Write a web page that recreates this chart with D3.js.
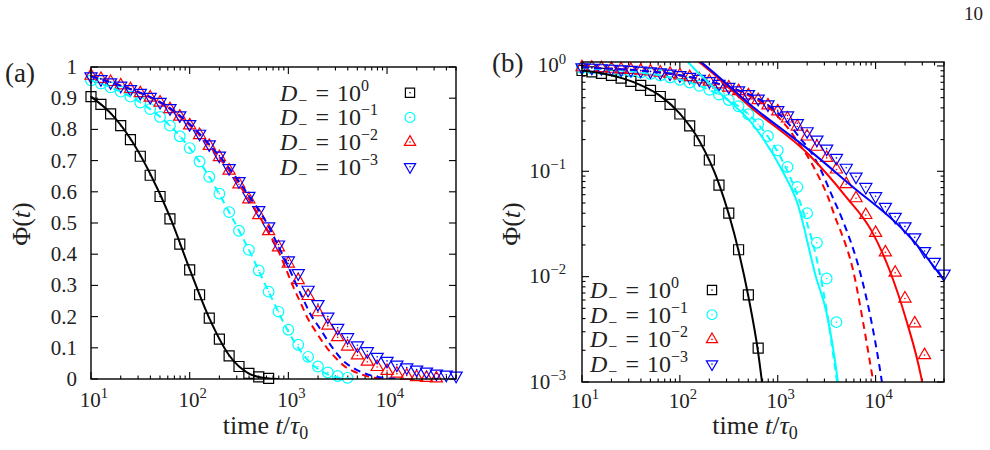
<!DOCTYPE html>
<html>
<head>
<meta charset="utf-8">
<script src="https://cdn.jsdelivr.net/npm/d3@7"></script>
<style>
body { margin: 0; background: #fff; }
</style>
</head>
<body>
<div id="graphicContainer"></div>
<script>
// simulation sampling times (t / tau0)
var times = [10, 12.6, 15.8, 20.0, 25.1, 31.6, 39.8, 50.1, 63.1, 79.4,
	100, 126, 158, 200, 251, 316, 398, 501, 631, 794,
	1000, 1259, 1585, 1995, 2512, 3162, 3981, 5012, 6310, 7943,
	10000, 12589, 15849, 19953, 25119, 31623, 39811, 50119];

var phiD1 = [0.905, 0.88, 0.85, 0.812, 0.767, 0.714, 0.653, 0.585, 0.513, 0.432,
	0.35, 0.27, 0.195, 0.128, 0.074, 0.04, 0.018, 0.0067, 0.0021];
var phiD01 = [0.957, 0.947, 0.935, 0.921, 0.905, 0.886, 0.865, 0.84, 0.812, 0.778,
	0.74, 0.697, 0.648, 0.594, 0.535, 0.475, 0.414, 0.348, 0.28, 0.216,
	0.158, 0.11, 0.071, 0.040, 0.021, 0.0096, 0.0037];
var phiD001 = [0.972, 0.962, 0.952, 0.941, 0.929, 0.916, 0.902, 0.886, 0.865, 0.841,
	0.813, 0.782, 0.747, 0.711, 0.668, 0.624, 0.576, 0.525, 0.474, 0.422,
	0.37, 0.317, 0.266, 0.214, 0.171, 0.134, 0.104, 0.0755, 0.0555, 0.0385,
	0.026, 0.017, 0.0109, 0.0062, 0.0036, 0.0018];
var phiD0001 = [0.970, 0.961, 0.951, 0.940, 0.929, 0.917, 0.904, 0.888, 0.868, 0.845,
	0.817, 0.786, 0.752, 0.716, 0.676, 0.634, 0.587, 0.541, 0.489, 0.431,
	0.38, 0.339, 0.286, 0.24, 0.2, 0.164, 0.134, 0.108, 0.089, 0.071,
	0.058, 0.046, 0.037, 0.030, 0.0236, 0.0175, 0.0138, 0.0107];

// fitted curves (t, Phi)
var fitBlackT = [10, 15.8, 25.1, 39.8, 63.1, 100, 158, 251, 398, 501, 631, 700, 800];
var fitBlackPhi = [0.905, 0.852, 0.77, 0.658, 0.52, 0.352, 0.195, 0.076, 0.0175, 0.0065, 0.0019, 0.0009, 0.0003];

var cyanDashT = [10, 15.8, 25.1, 39.8, 63.1, 100, 158, 251, 398, 631, 1000, 1259, 1585, 1995, 2512, 3162, 3981, 4500];
var cyanDashPhi = [0.957, 0.935, 0.905, 0.865, 0.812, 0.74, 0.648, 0.535, 0.414, 0.28, 0.152, 0.100, 0.060, 0.032, 0.0145, 0.0048, 0.0011, 0.0005];

var redDashT = [10, 15.8, 25.1, 39.8, 63.1, 100, 158, 251, 398, 631, 794, 912, 1122, 1349, 1549, 1905, 2455, 3236, 3981, 4467, 5888, 7413, 9036, 10000];
var redDashPhi = [0.972, 0.952, 0.929, 0.902, 0.865, 0.813, 0.747, 0.668, 0.576, 0.47, 0.41, 0.365, 0.295, 0.24, 0.198, 0.151, 0.10, 0.058, 0.034, 0.026, 0.0115, 0.0038, 0.0013, 0.00075];

var blueDashT = [10, 15.8, 25.1, 39.8, 63.1, 100, 158, 251, 398, 631, 794, 1000, 1175, 1429, 1660, 2089, 2692, 3548, 4624, 6855, 9036, 10965, 12303];
var blueDashPhi = [0.970, 0.951, 0.929, 0.904, 0.868, 0.817, 0.752, 0.676, 0.587, 0.489, 0.425, 0.36, 0.31, 0.253, 0.21, 0.162, 0.108, 0.06, 0.034, 0.0115, 0.0038, 0.0014, 0.0007];

// long-time asymptotes, only shown on the log panel
var cyanSolidT = [100, 120, 251, 562, 1122, 1585, 2455, 3162, 4120, 4500];
var cyanSolidPhi = [1.35, 1.1, 0.562, 0.275, 0.1, 0.05, 0.01, 0.0045, 0.001, 0.0005];
var redSolidT = [120, 155, 555, 2109, 5012, 9036, 13900, 20606, 29309, 33000];
var redSolidPhi = [1.3, 1.1, 0.39, 0.142, 0.057, 0.0275, 0.0115, 0.00385, 0.0011, 0.0006];
var blueSolidT = [120, 162, 555, 2109, 5861, 17620, 23174, 46990, 52000];
var blueSolidPhi = [1.35, 1.1, 0.41, 0.158, 0.071, 0.03, 0.023, 0.01, 0.0088];

var legendExp = [0, -1, -2, -3];

var FONT = "'Liberation Serif', 'DejaVu Serif', serif";

var seriesStyle = [
	{ phi: phiD1, color: "#000000", symbol: d3.symbolSquare, size: 100, rot: 0 },
	{ phi: phiD01, color: "#00ffff", symbol: d3.symbolCircle, size: 90, rot: 0 },
	{ phi: phiD001, color: "#ff0000", symbol: d3.symbolTriangle, size: 64, rot: 0 },
	{ phi: phiD0001, color: "#0000ff", symbol: d3.symbolTriangle, size: 64, rot: 180 }
];

var curves = [
	{ t: fitBlackT, phi: fitBlackPhi, color: "#000000", dash: null, panels: "ab" },
	{ t: cyanDashT, phi: cyanDashPhi, color: "#00ffff", dash: "7,5", panels: "ab" },
	{ t: redDashT, phi: redDashPhi, color: "#ff0000", dash: "7,5", panels: "ab" },
	{ t: blueDashT, phi: blueDashPhi, color: "#0000ff", dash: "7,5", panels: "ab" },
	{ t: cyanSolidT, phi: cyanSolidPhi, color: "#00ffff", dash: null, panels: "b" },
	{ t: redSolidT, phi: redSolidPhi, color: "#ff0000", dash: null, panels: "b" },
	{ t: blueSolidT, phi: blueSolidPhi, color: "#0000ff", dash: null, panels: "b" }
];

var panels = [
	{ id: "a", left: 91, right: 456, top: 67, bottom: 379, log: false, yDomain: [0, 1],
		label: "(a)", labelX: 5, labelY: 82, yTitleX: 30, tickDy: 28,
		legendTextX: 280, legendMarkX: 410, legendY: 92.7 },
	{ id: "b", left: 582, right: 944, top: 62, bottom: 382, log: true, yDomain: [1e-3, 1.09],
		label: "(b)", labelX: 492, labelY: 72, yTitleX: 520, tickDy: 26,
		legendTextX: 590, legendMarkX: 712, legendY: 290 }
];

var svg = d3.select("#graphicContainer").append("svg")
	.attr("width", 990)
	.attr("height", 450)
	.attr("font-family", FONT)
	.style("display", "block");

svg.append("text")
	.attr("x", 983).attr("y", 20)
	.attr("text-anchor", "end")
	.attr("font-size", 19)
	.attr("fill", "#222")
	.text("10");

function powLabel(text, exp, size) {
	text.append("tspan").text("10");
	text.append("tspan")
		.attr("font-size", size * 0.7)
		.attr("dy", -size * 0.42)
		.text(exp < 0 ? "\u2212" + (-exp) : exp);
}

function drawPanel(p) {
	var x = d3.scaleLog().domain([10, 5e4]).range([p.left, p.right]);
	var y = p.log
		? d3.scaleLog().domain(p.yDomain).range([p.bottom, p.top])
		: d3.scaleLinear().domain(p.yDomain).range([p.bottom, p.top]);

	var g = svg.append("g").attr("class", "panel-" + p.id);

	svg.append("clipPath").attr("id", "clip-" + p.id)
		.append("rect")
		.attr("x", p.left).attr("y", p.top)
		.attr("width", p.right - p.left).attr("height", p.bottom - p.top);

	// ticks, inward, mirrored on all four sides
	var ticks = g.append("g").attr("stroke", "#000").attr("stroke-width", 1.1);
	var isPow = function(v) { return Math.abs(Math.log10(v) - Math.round(Math.log10(v))) < 1e-6; };

	x.ticks().forEach(function(v) {
		var len = isPow(v) ? 7 : 3.5;
		ticks.append("line").attr("x1", x(v)).attr("x2", x(v)).attr("y1", p.bottom).attr("y2", p.bottom - len);
		ticks.append("line").attr("x1", x(v)).attr("x2", x(v)).attr("y1", p.top).attr("y2", p.top + len);
	});

	var yt = p.log ? y.ticks() : d3.range(0, 11).map(function(i) { return i / 10; });
	yt.forEach(function(v) {
		var len = (!p.log || isPow(v)) ? 7 : 3.5;
		ticks.append("line").attr("y1", y(v)).attr("y2", y(v)).attr("x1", p.left).attr("x2", p.left + len);
		ticks.append("line").attr("y1", y(v)).attr("y2", y(v)).attr("x1", p.right).attr("x2", p.right - len);
	});

	// tick labels
	var labels = g.append("g").attr("fill", "#222").attr("font-size", 21);
	x.ticks().filter(isPow).forEach(function(v) {
		var t = labels.append("text")
			.attr("x", x(v) + 3)
			.attr("y", p.bottom + p.tickDy)
			.attr("text-anchor", "middle");
		powLabel(t, Math.round(Math.log10(v)), 21);
	});
	if (p.log) {
		yt.filter(isPow).forEach(function(v) {
			var t = labels.append("text")
				.attr("x", p.left - 16)
				.attr("y", y(v) + 6.5)
				.attr("text-anchor", "end");
			powLabel(t, Math.round(Math.log10(v)), 21);
		});
	} else {
		yt.forEach(function(v) {
			labels.append("text")
				.attr("x", p.left - 14)
				.attr("y", y(v) + 7)
				.attr("text-anchor", "end")
				.text(v === 0 ? "0" : v === 1 ? "1" : d3.format(".1f")(v));
		});
	}

	// markers
	var markG = g.append("g");
	seriesStyle.forEach(function(s) {
		var pts = s.phi.map(function(v, i) { return [times[i], v]; })
			.filter(function(d) { return d[1] >= p.yDomain[0] && d[0] <= 5.1e4; });
		var sym = d3.symbol().type(s.symbol).size(s.size);
		var mk = markG.selectAll(null).data(pts).enter().append("g")
			.attr("transform", function(d) { return "translate(" + x(d[0]) + "," + y(d[1]) + ")"; });
		mk.append("path")
			.attr("d", sym())
			.attr("transform", "rotate(" + s.rot + ")")
			.attr("fill", "none")
			.attr("stroke", s.color)
			.attr("stroke-width", 1.2);
		mk.append("circle").attr("r", 0.8).attr("fill", s.color);
	});

	// curves
	var lineGen = d3.line()
		.x(function(d) { return x(d[0]); })
		.y(function(d) { return y(d[1]); })
		.curve(d3.curveMonotoneX);

	var curveG = g.append("g").attr("clip-path", "url(#clip-" + p.id + ")");
	curves.filter(function(c) { return c.panels.indexOf(p.id) >= 0; }).forEach(function(c) {
		var pts = c.t.map(function(t, i) { return [t, c.phi[i]]; });
		curveG.append("path")
			.datum(pts)
			.attr("d", lineGen)
			.attr("fill", "none")
			.attr("stroke", c.color)
			.attr("stroke-width", 2)
			.attr("stroke-dasharray", c.dash);
	});

	// border
	g.append("rect")
		.attr("x", p.left).attr("y", p.top)
		.attr("width", p.right - p.left).attr("height", p.bottom - p.top)
		.attr("fill", "none").attr("stroke", "#000").attr("stroke-width", 1.4);

	// legend
	var leg = g.append("g");
	legendExp.forEach(function(e, i) {
		var ly = p.legendY + i * 24.7;
		var t = leg.append("text")
			.attr("x", p.legendTextX)
			.attr("y", ly + 8)
			.attr("font-size", 24)
			.attr("fill", "#222");
		t.append("tspan").attr("font-style", "italic").text("D");
		t.append("tspan").attr("font-size", 16).attr("dy", 5).attr("dx", 1).text("\u2212");
		t.append("tspan").attr("dy", -5).attr("dx", 8).text("=");
		t.append("tspan").attr("dx", 8).text("10");
		t.append("tspan").attr("font-size", 16).attr("dy", -10).text(e === 0 ? "0" : "\u2212" + (-e));
		var s = seriesStyle[i];
		var mg = leg.append("g").attr("transform", "translate(" + p.legendMarkX + "," + ly + ")");
		mg.append("path")
			.attr("d", d3.symbol().type(s.symbol).size(s.size * 0.85)())
			.attr("transform", "rotate(" + s.rot + ")")
			.attr("fill", "none").attr("stroke", s.color).attr("stroke-width", 1.2);
		mg.append("circle").attr("r", 0.8).attr("fill", s.color);
	});

	// axis titles
	var xt = g.append("text")
		.attr("x", (p.left + p.right) / 2 - 8)
		.attr("y", 434)
		.attr("text-anchor", "middle")
		.attr("font-size", 26)
		.attr("fill", "#222");
	xt.append("tspan").text("time ");
	xt.append("tspan").attr("font-style", "italic").text("t");
	xt.append("tspan").text("/");
	xt.append("tspan").attr("font-style", "italic").text("\u03c4");
	xt.append("tspan").attr("font-size", 18).attr("dy", 5).text("0");

	var ytl = g.append("text")
		.attr("transform", "translate(" + p.yTitleX + "," + 224 + ") rotate(-90)")
		.attr("text-anchor", "middle")
		.attr("font-size", 26)
		.attr("fill", "#222");
	ytl.append("tspan").text("\u03a6(");
	ytl.append("tspan").attr("font-style", "italic").text("t");
	ytl.append("tspan").text(")");

	g.append("text")
		.attr("x", p.labelX).attr("y", p.labelY)
		.attr("font-size", 27)
		.attr("fill", "#222")
		.text(p.label);
}

panels.forEach(drawPanel);
</script>
</body>
</html>
